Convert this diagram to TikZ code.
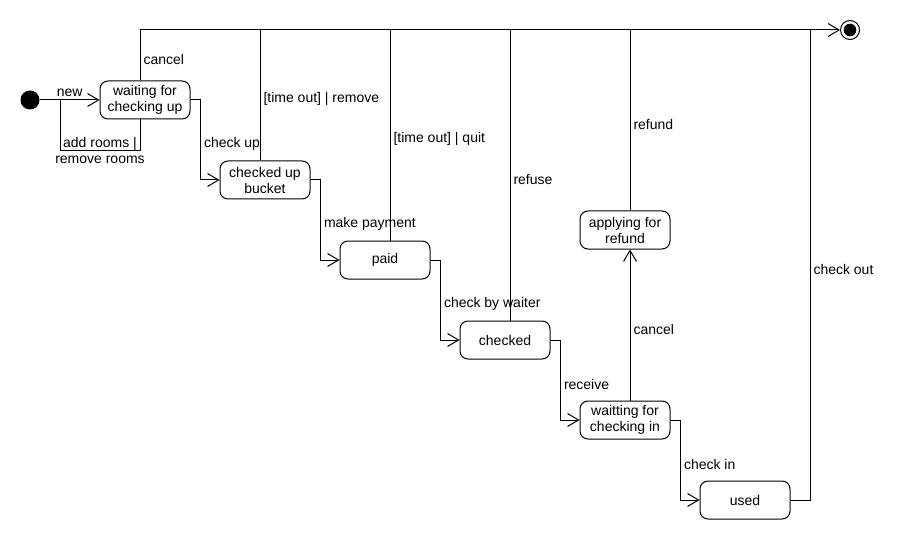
\documentclass[tikz,border=0pt]{standalone}
\usepackage{fontspec}
\setmainfont{Liberation Sans}
\usetikzlibrary{arrows.meta, positioning}

\begin{document}
\begin{tikzpicture}[x=1pt, y=-1pt, line width=1pt, font=\fontsize{14}{16}\selectfont,
  state/.style={draw, rounded corners=8pt, minimum width=90pt, minimum height=38pt, align=center, inner sep=2pt},
  trans/.style={-{Straight Barb[length=11pt,width=13pt]}},
  lbl/.style={right, inner sep=3pt, yshift=-4pt}]

\useasboundingbox (0,0) rectangle (910,540);

\node[circle, fill, minimum size=19pt, inner sep=0pt] (init) at (30,100) {};
\node[circle, draw, minimum size=19pt, inner sep=0pt] (final) at (850,30) {};
\fill (final) circle (6.3pt);
\coordinate (outcorner) at (810,30);

\node[state] (wait) at (145,100) {waiting for\\checking up};
\node[state] (bucket) at (265,180) {checked up\\bucket};
\node[state] (paid) at (385,260) {paid};
\node[state] (checked) at (505,340) {checked};
\node[state] (wcheckin) at (625,420) {waitting for\\checking in};
\node[state] (used) at (745,500) {used};
\node[state] (refund) at (625,230) {applying for\\refund};

\draw[trans] (init) -- node[above]{new} (wait.west);
\draw ([xshift=-5pt]wait.south) -- ++(0,31) -| node[pos=0.25, align=center]{add rooms |\\remove rooms} (60,100);

\draw[trans] (wait.east) -- ++(10,0) |- node[pos=0.25, lbl]{check up} (bucket.west);
\draw[trans] (bucket.east) -- ++(10,0) |- node[pos=0.25, lbl]{make payment} (paid.west);
\draw[trans] (paid.east) -- ++(10,0) |- node[pos=0.25, lbl]{check by waiter} (checked.west);
\draw[trans] (checked.east) -- ++(10,0) |- node[pos=0.25, lbl]{receive} (wcheckin.west);
\draw[trans] (wcheckin.east) -- ++(10,0) |- node[pos=0.25, lbl]{check in} (used.west);
\draw[trans] ([xshift=5pt]wcheckin.north) -- node[lbl]{cancel} ([xshift=5pt]refund.south);

\draw[trans] ([xshift=-5pt]wait.north) |- node[pos=0.25, lbl]{cancel} (final);
\draw ([xshift=-5pt]bucket.north) -- node[lbl]{[time out] | remove} ([xshift=-5pt]bucket.north |- final);
\draw ([xshift=5pt]paid.north) -- node[lbl]{[time out] | quit} ([xshift=5pt]paid.north |- final);
\draw ([xshift=5pt]checked.north) -- node[lbl]{refuse} ([xshift=5pt]checked.north |- final);
\draw ([xshift=5pt]refund.north) -- node[lbl]{refund} ([xshift=5pt]refund.north |- final);
\draw (used.east) -| node[pos=0.75, lbl]{check out} (outcorner);

\end{tikzpicture}
\end{document}
